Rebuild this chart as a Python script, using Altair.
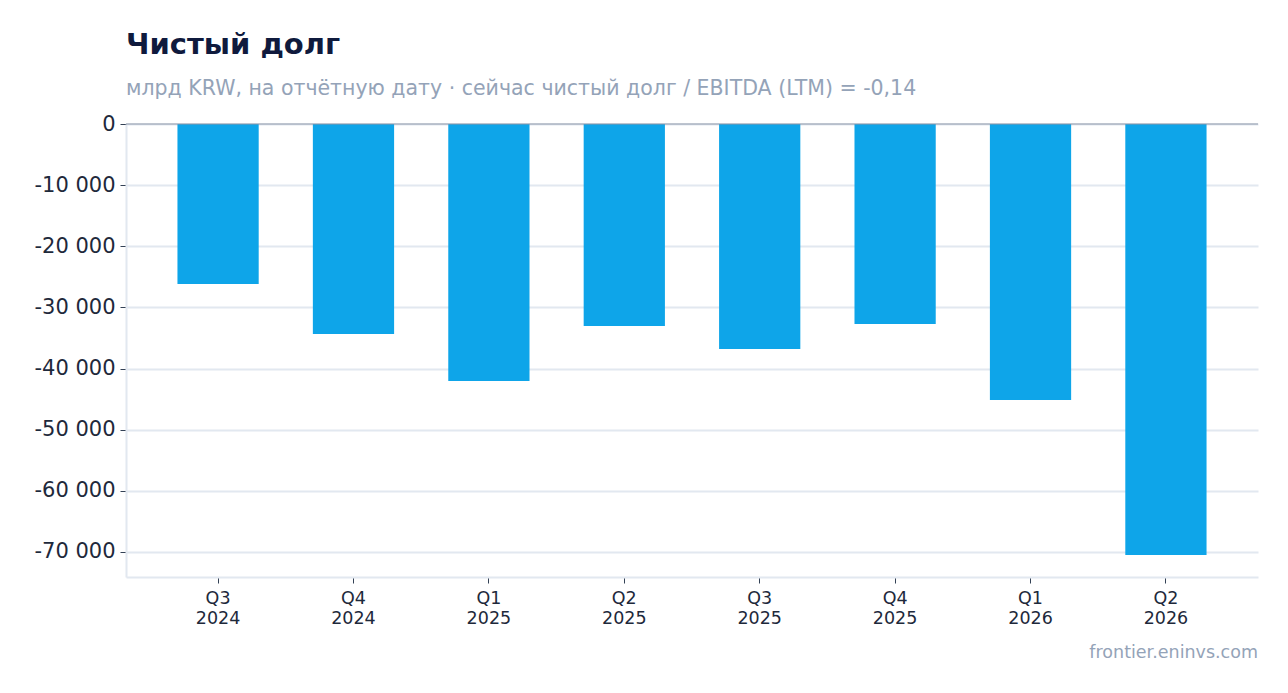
import altair as alt
import pandas as pd

quarters = ["Q3 2024", "Q4 2024", "Q1 2025", "Q2 2025", "Q3 2025", "Q4 2025", "Q1 2026", "Q2 2026"]
net_debt = [-26170, -34350, -42030, -33040, -36800, -32710, -45140, -70490]
y_ticks = [0, -10000, -20000, -30000, -40000, -50000, -60000, -70000]
footer_text = "frontier.eninvs.com"

df = pd.DataFrame({"q": quarters, "v": net_debt})

W, H = 1132, 453
FONT = "DejaVu Sans"

base = alt.Chart(df)

bars = base.mark_bar(color="#0ea5e9").encode(
    x=alt.X(
        "q:N",
        sort=quarters,
        title=None,
        scale=alt.Scale(paddingInner=0.4, paddingOuter=0.38),
        axis=alt.Axis(
            labelAngle=0,
            labelExpr="split(datum.label, ' ')",
            labelFontSize=17.5,
            labelColor="#1e293b",
            labelPadding=6,
            tickColor="#334155",
            tickSize=6,
            domainColor="#e2e8f0",
            domainWidth=2,
            grid=False,
            labelLineHeight=20,
        ),
    ),
    y=alt.Y(
        "v:Q",
        title=None,
        scale=alt.Scale(domain=[-74100, 0], nice=False, zero=False),
        axis=alt.Axis(
            values=y_ticks,
            labelExpr="(datum.value < 0 ? '-' : '') + replace(format(abs(datum.value), ',d'), ',', ' ')",
            labelFontSize=21,
            labelColor="#1e293b",
            labelPadding=5,
            tickColor="#334155",
            tickSize=6,
            domainColor="#e2e8f0",
            domainWidth=2,
            gridColor="#e2e8f0",
            gridWidth=2,
        ),
    ),
)

zero = alt.Chart(pd.DataFrame({"y": [0]})).mark_rule(color="#8b95a7", strokeWidth=1).encode(y="y:Q")

footer = alt.Chart(pd.DataFrame({"t": [footer_text]})).mark_text(
    align="right", baseline="middle", fontSize=17.5, color="#94a3b8", font=FONT
).encode(x=alt.value(W), y=alt.value(H + 76), text="t:N")

chart = (
    alt.layer(bars, zero, footer)
    .properties(
        width=W,
        height=H,
        title=alt.TitleParams(
            text="Чистый долг",
            subtitle="млрд KRW, на отчётную дату · сейчас чистый долг / EBITDA (LTM) = -0,14",
            anchor="start",
            frame="group",
            fontSize=29,
            fontWeight="bold",
            color="#0f1a3d",
            subtitleFontSize=20.5,
            subtitleColor="#94a3b8",
            subtitleFont=FONT,
            font=FONT,
            subtitlePadding=19,
            offset=14,
        ),
        padding={"top": 22, "left": 25, "right": 10, "bottom": 5},
    )
    .configure(font=FONT)
    .configure_view(stroke=None)
)

chart.save("out.html", embed_options={"renderer": "svg", "actions": False})
